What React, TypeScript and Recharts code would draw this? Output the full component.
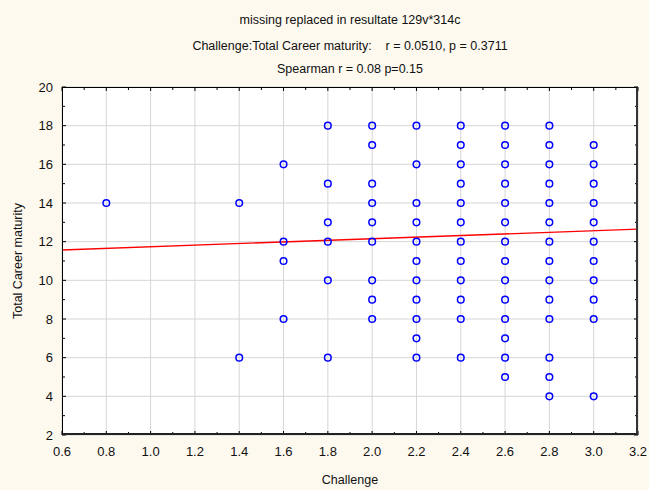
import { ScatterChart, Scatter, XAxis, YAxis, CartesianGrid, ReferenceLine } from 'recharts';

// challenge levels present in the data, and maturity scores observed at each
const challengeLevels = [0.8, 1.4, 1.6, 1.8, 2.0, 2.2, 2.4, 2.6, 2.8, 3.0];
const maturityByLevel = [
  [14],
  [14, 6],
  [16, 12, 11, 8],
  [18, 15, 13, 12, 10, 6],
  [18, 17, 15, 14, 13, 12, 10, 9, 8],
  [18, 16, 14, 13, 12, 11, 10, 9, 8, 7, 6],
  [18, 17, 16, 15, 14, 13, 12, 11, 10, 9, 8, 6],
  [18, 17, 16, 15, 14, 13, 12, 11, 10, 9, 8, 7, 6, 5],
  [18, 17, 16, 15, 14, 13, 12, 11, 10, 9, 8, 6, 5, 4],
  [17, 16, 15, 14, 13, 12, 11, 10, 9, 8, 4],
];

// fitted line, read at the two ends of the x range
const fitLine = [
  { x: 0.6, y: 11.57 },
  { x: 3.2, y: 12.65 },
];

const xTicks = [0.6, 0.7, 0.8, 0.9, 1.0, 1.1, 1.2, 1.3, 1.4, 1.5, 1.6, 1.7, 1.8, 1.9, 2.0, 2.1, 2.2, 2.3, 2.4, 2.5, 2.6, 2.7, 2.8, 2.9, 3.0, 3.1, 3.2];
const xMajor = [0.6, 0.8, 1.0, 1.2, 1.4, 1.6, 1.8, 2.0, 2.2, 2.4, 2.6, 2.8, 3.0, 3.2];
const yTicks = [2, 3, 4, 5, 6, 7, 8, 9, 10, 11, 12, 13, 14, 15, 16, 17, 18, 19, 20];
const yMajor = [2, 4, 6, 8, 10, 12, 14, 16, 18, 20];

const data = challengeLevels.flatMap((x, i) => maturityByLevel[i].map((y) => ({ x, y })));

const W = 649;
const H = 490;
const PLOT = { left: 62, top: 87, right: 638, bottom: 435 };
const FONT = '"Liberation Sans", Arial, sans-serif';

const isMajor = (v: number, list: number[]) => list.some((m) => Math.abs(m - v) < 1e-6);

const XTick = (props: any) => {
  const { x, payload } = props;
  const major = isMajor(payload.value, xMajor);
  const len = major ? 4 : 3;
  return (
    <g>
      <line x1={x} x2={x} y1={PLOT.bottom} y2={PLOT.bottom - len} stroke="#000" />
      <line x1={x} x2={x} y1={PLOT.top} y2={PLOT.top + len} stroke="#000" />
      {major && (
        <text x={x} y={PLOT.bottom + 21} textAnchor="middle" fontSize={13} fontFamily={FONT} fill="#111">
          {payload.value.toFixed(1)}
        </text>
      )}
    </g>
  );
};

const YTick = (props: any) => {
  const { y, payload } = props;
  const major = isMajor(payload.value, yMajor);
  const len = major ? 4 : 3;
  return (
    <g>
      <line x1={PLOT.left} x2={PLOT.left + len} y1={y} y2={y} stroke="#000" />
      <line x1={PLOT.right} x2={PLOT.right - len} y1={y} y2={y} stroke="#000" />
      {major && (
        <text x={PLOT.left - 9} y={y + 4.5} textAnchor="end" fontSize={13} fontFamily={FONT} fill="#111">
          {payload.value}
        </text>
      )}
    </g>
  );
};

const OpenCircle = (props: any) => (
  <circle cx={props.cx} cy={props.cy} r={3.3} fill="none" stroke="#0000ff" strokeWidth={1.5} />
);

const textStyle: React.CSSProperties = {
  position: 'absolute',
  fontFamily: FONT,
  fontSize: 12.5,
  lineHeight: '14px',
  color: '#111',
  whiteSpace: 'nowrap',
};

export default function App() {
  const plotW = PLOT.right - PLOT.left;
  const plotH = PLOT.bottom - PLOT.top;
  return (
    <div style={{ position: 'absolute', left: 0, top: 0, width: W, height: H, background: '#fdf9ef' }}>
      <ScatterChart
        width={W}
        height={H}
        margin={{ top: PLOT.top, right: W - PLOT.right, bottom: H - PLOT.bottom - 30, left: PLOT.left - 40 }}
      >
        <CartesianGrid
          fill="#ffffff"
          stroke="#d6d6d6"
          verticalValues={xMajor}
          horizontalValues={yMajor}
        />
        <XAxis
          type="number"
          dataKey="x"
          domain={[0.6, 3.2]}
          ticks={xTicks}
          interval={0}
          height={30}
          tickSize={0}
          axisLine={false}
          tickLine={false}
          tick={<XTick />}
        />
        <YAxis
          type="number"
          dataKey="y"
          domain={[2, 20]}
          ticks={yTicks}
          interval={0}
          width={40}
          tickSize={0}
          axisLine={false}
          tickLine={false}
          tick={<YTick />}
        />
        <ReferenceLine segment={fitLine} stroke="#ff0000" strokeWidth={1.3} ifOverflow="visible" />
        <Scatter data={data} shape={<OpenCircle />} isAnimationActive={false} />
      </ScatterChart>
      <div
        style={{
          position: 'absolute',
          left: PLOT.left,
          top: PLOT.top,
          width: plotW,
          height: plotH,
          boxSizing: 'border-box',
          borderLeft: '1px solid #000',
          borderTop: '1px solid #000',
          borderRight: '2px solid #333',
          borderBottom: '2px solid #222',
          pointerEvents: 'none',
        }}
      />
      <div style={{ ...textStyle, left: PLOT.left, width: plotW, top: 13, textAlign: 'center' }}>
        missing replaced in resultate 129v*314c
      </div>
      <div style={{ ...textStyle, left: PLOT.left, width: plotW, top: 39, textAlign: 'center' }}>
        Challenge:Total Career maturity:&nbsp;&nbsp;&nbsp; r = 0.0510, p = 0.3711
      </div>
      <div style={{ ...textStyle, left: PLOT.left, width: plotW, top: 62, textAlign: 'center' }}>
        Spearman r = 0.08 p=0.15
      </div>
      <div style={{ ...textStyle, left: PLOT.left, width: plotW, top: 473, textAlign: 'center' }}>
        Challenge
      </div>
      <div
        style={{
          ...textStyle,
          left: 18,
          top: 261,
          transform: 'translate(-50%, -50%) rotate(-90deg)',
        }}
      >
        Total Career maturity
      </div>
    </div>
  );
}
